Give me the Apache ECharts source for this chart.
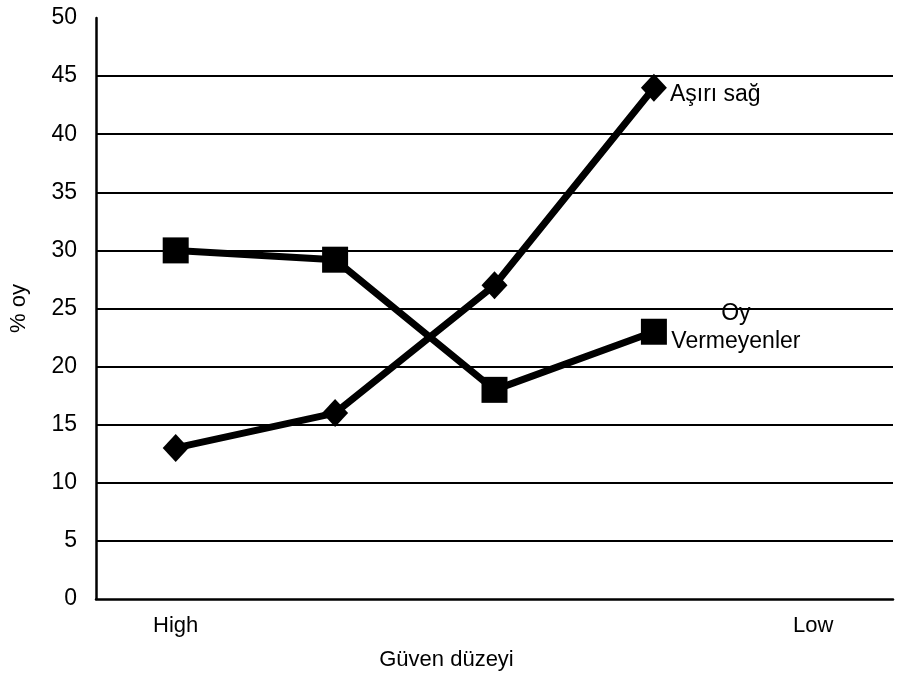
<!DOCTYPE html>
<html>
<head>
<meta charset="utf-8">
<script src="https://cdn.jsdelivr.net/npm/echarts@6/dist/echarts.min.js"></script>
<style>
  html, body { margin: 0; padding: 0; background: #fff; }
  #main { width: 899px; height: 676px; }
</style>
</head>
<body>
<div id="main"></div>
<script>
// veriler
var categories = ['High', '', '', '', 'Low'];
var asiriSag = [13, 16, 27, 44, null];
var oyVermeyenler = [30, 29.2, 18, 23, null];
var gridValues = [5, 10, 15, 20, 25, 30, 35, 40, 45];

var font = 'Liberation Sans, Arial, sans-serif';
var chart = echarts.init(document.getElementById('main'));

chart.setOption({
    animation: false,
    backgroundColor: '#fff',
    grid: { left: 93, right: 6, top: 18, bottom: 75 },
    xAxis: {
        type: 'category',
        data: categories,
        boundaryGap: true,
        name: 'Güven düzeyi',
        nameLocation: 'middle',
        nameGap: 50,
        nameTextStyle: { color: '#000', fontSize: 22, fontFamily: font, padding: [0, 96, 0, 0] },
        axisLine: { lineStyle: { color: '#000', width: 2.5 } },
        axisTick: { show: false },
        axisLabel: { color: '#000', fontSize: 22, fontFamily: font, margin: 16, interval: 0 }
    },
    yAxis: {
        type: 'value',
        min: 0,
        max: 50,
        interval: 5,
        name: '% oy',
        nameLocation: 'middle',
        nameGap: 66,
        nameTextStyle: { color: '#000', fontSize: 22, fontFamily: font },
        axisLine: { show: true, lineStyle: { color: '#000', width: 2.5 } },
        axisTick: { show: false },
        splitLine: { show: false },
        axisLabel: { color: '#000', fontSize: 23, fontFamily: font, margin: 19 }
    },
    series: [
        {
            name: 'Aşırı sağ',
            type: 'line',
            data: asiriSag,
            symbol: 'diamond',
            symbolSize: [26, 28],
            lineStyle: { color: '#000', width: 7 },
            itemStyle: { color: '#000' },
            label: {
                show: true,
                formatter: function (p) { return p.dataIndex === 3 ? 'Aşırı sağ' : ''; },
                position: 'right',
                distance: 3,
                offset: [0, 7],
                color: '#000',
                fontSize: 23,
                fontFamily: font
            },
            markLine: {
                silent: true,
                symbol: 'none',
                label: { show: false },
                lineStyle: { color: '#000', width: 2, type: 'solid' },
                data: gridValues.map(function (v) { return { yAxis: v }; })
            },
            z: 3
        },
        {
            name: 'Oy Vermeyenler',
            type: 'line',
            data: oyVermeyenler,
            symbol: 'rect',
            symbolSize: 26,
            lineStyle: { color: '#000', width: 7 },
            itemStyle: { color: '#000' },
            label: {
                show: true,
                formatter: function (p) { return p.dataIndex === 3 ? 'Oy\nVermeyenler' : ''; },
                position: 'inside',
                align: 'center',
                offset: [82, -4],
                lineHeight: 28,
                color: '#000',
                fontSize: 23,
                fontFamily: font
            },
            z: 3
        }
    ]
});
</script>
</body>
</html>
